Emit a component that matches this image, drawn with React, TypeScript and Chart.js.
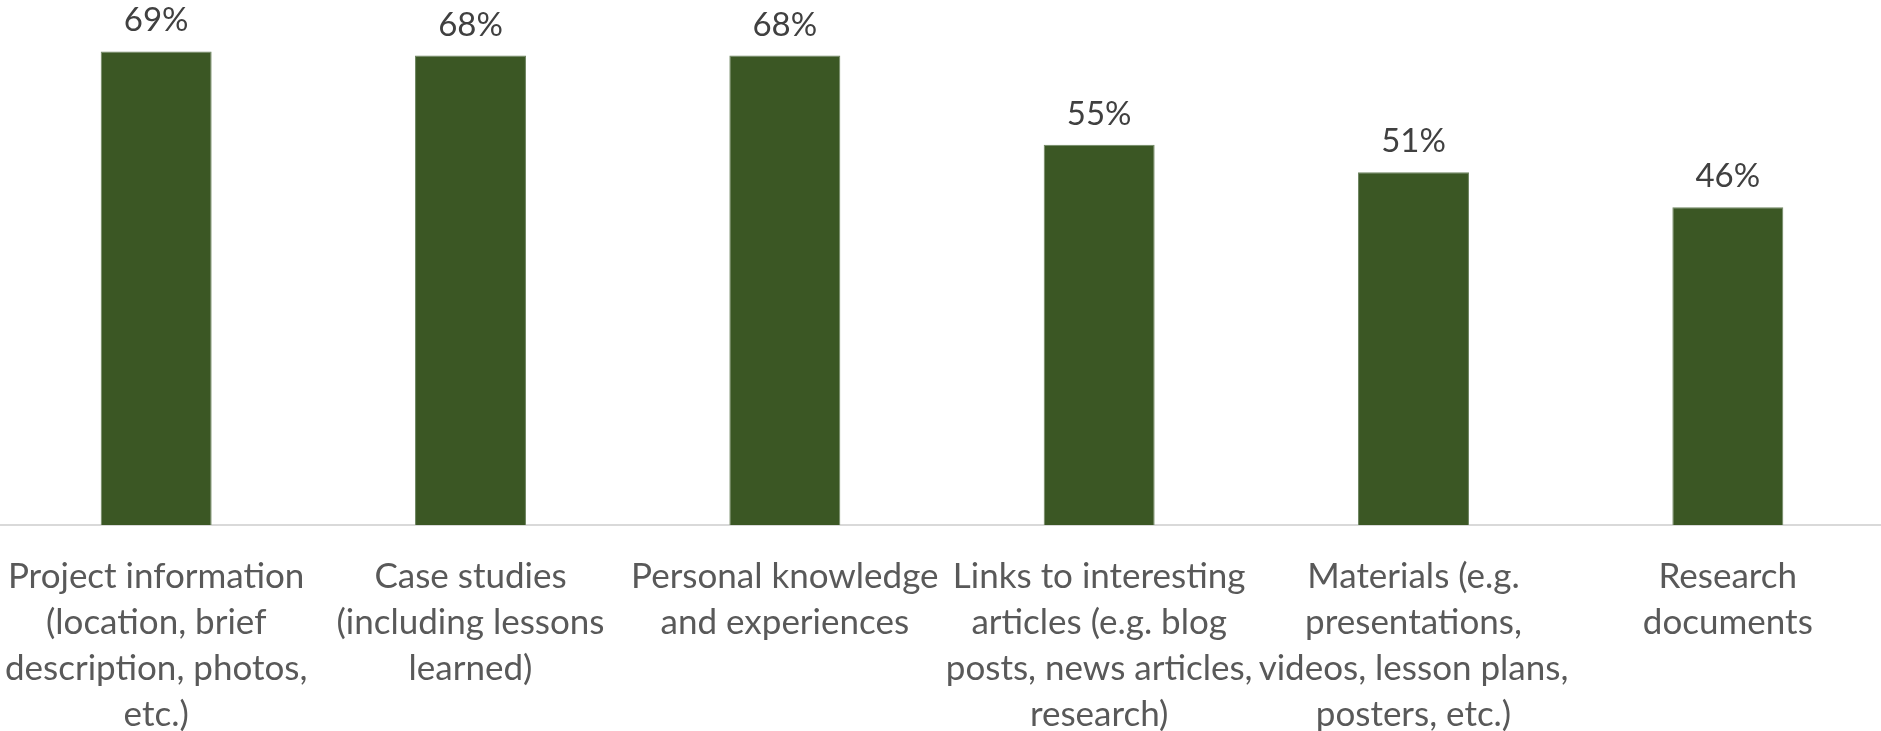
import React, { useEffect, useRef } from "react";
import { Chart, registerables } from "chart.js";

Chart.register(...registerables);

const FONT = "Lato, 'DejaVu Sans', sans-serif";

const categories: string[][] = [
  ["Project information", "(location, brief", "description, photos,", "etc.)"],
  ["Case studies", "(including lessons", "learned)"],
  ["Personal knowledge", "and experiences"],
  ["Links to interesting", "articles (e.g. blog", "posts, news articles,", "research)"],
  ["Materials (e.g.", "presentations,", "videos, lesson plans,", "posters, etc.)"],
  ["Research", "documents"],
];

const percentValues: number[] = [69.0, 68.4, 68.4, 55.4, 51.4, 46.3];

const BAR_COLOR = "#3B5724";

const valueLabelPlugin = {
  id: "valueLabels",
  afterDatasetsDraw(chart: any) {
    const ctx = chart.ctx;
    const meta = chart.getDatasetMeta(0);
    ctx.save();
    ctx.font = `33px ${FONT}`;
    ctx.fillStyle = "#404040";
    ctx.textAlign = "center";
    ctx.textBaseline = "alphabetic";
    meta.data.forEach((bar: any, i: number) => {
      const v = chart.data.datasets[0].data[i] as number;
      ctx.fillText(`${Math.round(v)}%`, bar.x, bar.y - 20);
    });
    ctx.restore();
  },
};

export default function App() {
  const canvasRef = useRef<HTMLCanvasElement | null>(null);

  useEffect(() => {
    if (!canvasRef.current) return;
    const chart = new Chart(canvasRef.current, {
      type: "bar",
      data: {
        labels: categories,
        datasets: [
          {
            data: percentValues,
            backgroundColor: BAR_COLOR,
            borderColor: "#6E8560",
            borderWidth: 1,
            barPercentage: 0.353,
            categoryPercentage: 1,
          },
        ],
      },
      options: {
        responsive: false,
        animation: false,
        devicePixelRatio: 1,
        layout: { padding: { top: 0, left: 0, right: 0, bottom: 0 } },
        plugins: {
          legend: { display: false },
          tooltip: { enabled: false },
        },
        scales: {
          x: {
            grid: { display: false, drawTicks: false },
            border: { display: true, color: "#D9D9D9", width: 2 },
            ticks: {
              autoSkip: false,
              maxRotation: 0,
              minRotation: 0,
              padding: 29,
              color: "#595959",
              font: { family: FONT, size: 35, lineHeight: 46 / 35 },
            },
            afterFit: (scale: any) => {
              scale.height = 206;
              scale.paddingLeft = 0;
              scale.paddingRight = 0;
            },
          },
          y: {
            display: false,
            min: 0,
            max: 76.5,
          },
        },
      },
      plugins: [valueLabelPlugin],
    });
    return () => chart.destroy();
  }, []);

  return (
    <div
      style={{
        position: "fixed",
        left: 0,
        top: 0,
        width: 1881,
        height: 731,
        overflow: "hidden",
        background: "#ffffff",
      }}
    >
      <canvas
        ref={canvasRef}
        width={1886}
        height={731}
        style={{ position: "absolute", left: -1, top: 0, width: 1886, height: 731 }}
      />
    </div>
  );
}
